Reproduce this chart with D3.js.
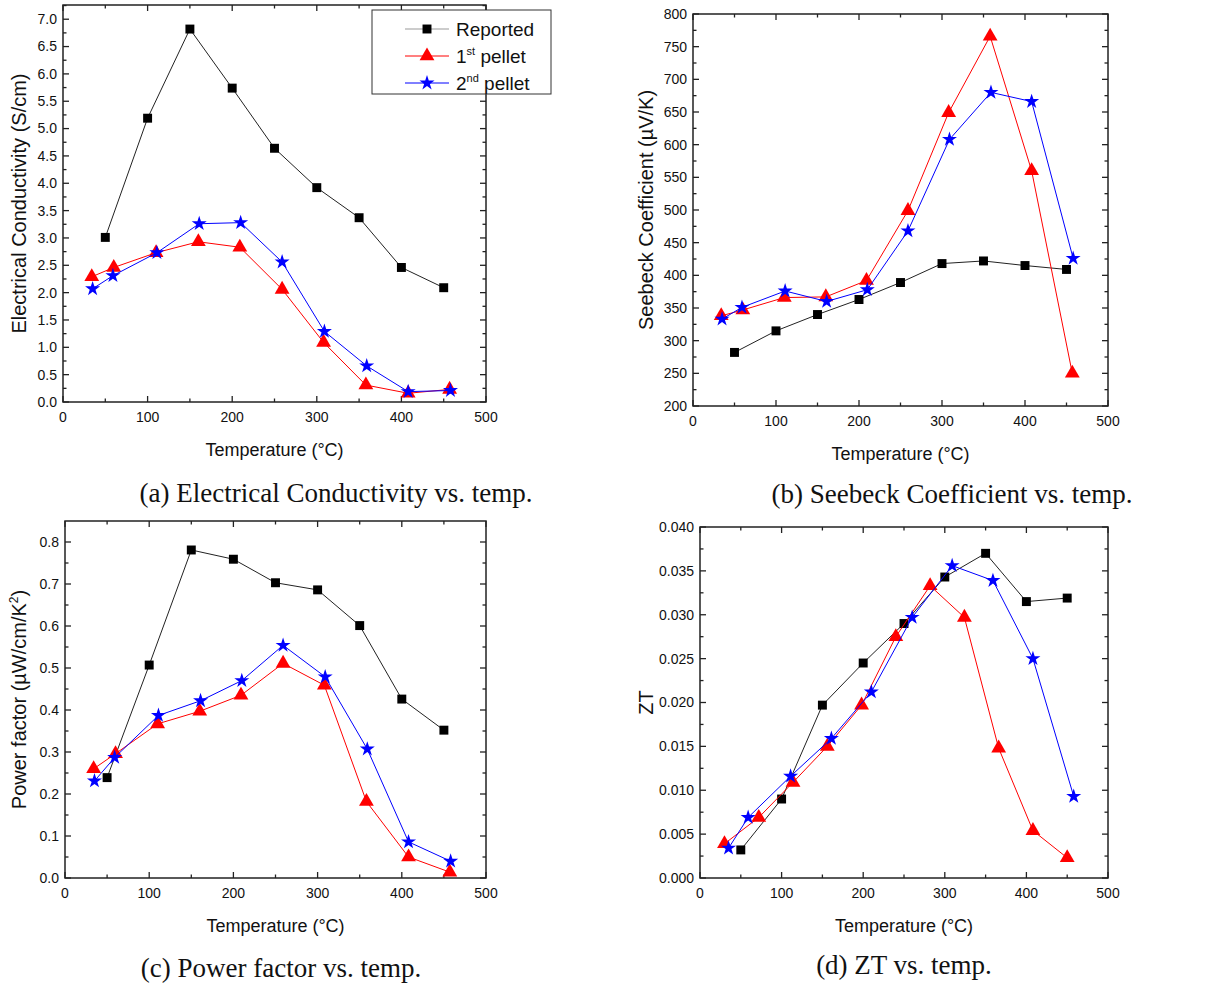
<!DOCTYPE html>
<html>
<head>
<meta charset="utf-8">
<script src="https://cdn.jsdelivr.net/npm/d3@7"></script>
<style>
  body { margin: 0; background: #fff; }
  svg { display: block; }
  text { font-family: Arial, "Liberation Sans", sans-serif; fill: #111; }
  .caption { font-family: "Times New Roman", "Liberation Serif", serif; font-size: 27px; }
</style>
</head>
<body>
<svg id="chart" width="1206" height="985"></svg>
<script>
// temperatures (°C)
const reportedT = [50, 100, 150, 200, 250, 300, 350, 400, 450];
const pellet1T = [34, 60, 110, 160, 209, 259, 308, 358, 408, 457];
const pellet2T = [35, 59, 111, 161, 210, 259, 309, 359, 408, 458];
const pellet1ZtT = [30, 72, 114, 156, 198, 240, 282, 324, 366, 408, 450];
const pellet2ZtT = [35, 59, 111, 161, 210, 260, 309, 359, 408, 458];

// (a) electrical conductivity (S/cm)
const condReported = [3.01, 5.19, 6.82, 5.74, 4.64, 3.92, 3.37, 2.46, 2.09];
const condPellet1 = [2.29, 2.46, 2.73, 2.93, 2.83, 2.06, 1.09, 0.31, 0.16, 0.23];
const condPellet2 = [2.07, 2.31, 2.73, 3.26, 3.28, 2.56, 1.29, 0.66, 0.19, 0.21];

// (b) Seebeck coefficient (µV/K)
const seebReported = [282, 315, 340, 363, 389, 418, 422, 415, 409];
const seebPellet1 = [338, 347, 366, 367, 392, 499, 649, 766, 560, 250];
const seebPellet2 = [333, 351, 376, 360, 378, 468, 608, 680, 666, 426];

// (c) power factor (µW/cm/K²)
const pfReported = [0.239, 0.507, 0.781, 0.759, 0.703, 0.686, 0.601, 0.426, 0.352];
const pfPellet1 = [0.260, 0.296, 0.367, 0.397, 0.435, 0.511, 0.459, 0.182, 0.050, 0.014];
const pfPellet2 = [0.231, 0.287, 0.387, 0.422, 0.470, 0.554, 0.479, 0.307, 0.086, 0.040];

// (d) ZT
const ztReported = [0.0032, 0.0090, 0.0197, 0.0245, 0.0290, 0.0343, 0.0370, 0.0315, 0.0319];
const ztPellet1 = [0.0039, 0.0069, 0.0109, 0.0150, 0.0197, 0.0275, 0.0333, 0.0297, 0.0148, 0.0054, 0.0023];
const ztPellet2 = [0.0034, 0.0069, 0.0116, 0.0159, 0.0212, 0.0297, 0.0356, 0.0339, 0.0250, 0.0093];

const seriesStyle = [
  { name: 'Reported', color: '#000', line: '#222', symbol: d3.symbolSquare, size: 80 },
  { name: ' pellet', pre: '1', sup: 'st', color: '#ff0000', line: '#ff0000', symbol: d3.symbolTriangle, size: 95 },
  { name: ' pellet', pre: '2', sup: 'nd', color: '#0000ff', line: '#0000ff', symbol: d3.symbolStar, size: 70 }
];

const panels = [
  { box: [63, 486, 5, 402], yDomain: [0, 7.26], yMajor: 0.5, yFmt: '.1f',
    yTitle: 'Electrical Conductivity (S/cm)', yTitleX: 19,
    caption: '(a) Electrical Conductivity vs. temp.', capX: 336, capY: 493,
    series: [[reportedT, condReported], [pellet1T, condPellet1], [pellet2T, condPellet2]], legend: true },
  { box: [693, 1108, 14, 406], yDomain: [200, 800], yMajor: 50, yFmt: 'd',
    yTitle: 'Seebeck Coefficient (\u00b5V/K)', yTitleX: 646,
    caption: '(b) Seebeck Coefficient vs. temp.', capX: 952, capY: 494,
    series: [[reportedT, seebReported], [pellet1T, seebPellet1], [pellet2T, seebPellet2]] },
  { box: [65, 486, 521, 878], yDomain: [0, 0.85], yMajor: 0.1, yFmt: '.1f',
    yTitle: 'Power factor (\u00b5W/cm/K', yTitleSup: '2', yTitleEnd: ')', yTitleX: 19,
    caption: '(c) Power factor vs. temp.', capX: 281, capY: 968,
    series: [[reportedT, pfReported], [pellet1T, pfPellet1], [pellet2T, pfPellet2]] },
  { box: [700, 1108, 527, 878], yDomain: [0, 0.04], yMajor: 0.005, yFmt: '.3f',
    yTitle: 'ZT', yTitleX: 646,
    caption: '(d) ZT vs. temp.', capX: 904, capY: 965,
    series: [[reportedT, ztReported], [pellet1ZtT, ztPellet1], [pellet2ZtT, ztPellet2]] }
];

const svg = d3.select('#chart');

panels.forEach(p => {
  const [L, R, T, B] = p.box;
  const x = d3.scaleLinear().domain([0, 500]).range([L, R]);
  const y = d3.scaleLinear().domain(p.yDomain).range([B, T]);
  const g = svg.append('g');

  const xMajor = d3.range(0, 501, 100);
  const xMinor = d3.range(50, 500, 100);
  const yMajor = d3.range(p.yDomain[0], p.yDomain[1] + 1e-9, p.yMajor).map(v => +v.toFixed(6));
  const yMinor = d3.range(p.yDomain[0] + p.yMajor / 2, p.yDomain[1], p.yMajor).map(v => +v.toFixed(6));

  // ticks (inward, mirrored on all four sides)
  const tick = (x1, y1, x2, y2) => g.append('line').attr('x1', x1).attr('y1', y1).attr('x2', x2).attr('y2', y2)
    .attr('stroke', '#222').attr('stroke-width', 1.3);
  xMajor.forEach(v => { tick(x(v), B, x(v), B - 6); tick(x(v), T, x(v), T + 6); });
  xMinor.forEach(v => { tick(x(v), B, x(v), B - 3.5); tick(x(v), T, x(v), T + 3.5); });
  yMajor.forEach(v => { tick(L, y(v), L + 6, y(v)); tick(R, y(v), R - 6, y(v)); });
  yMinor.forEach(v => { tick(L, y(v), L + 3.5, y(v)); tick(R, y(v), R - 3.5, y(v)); });

  g.append('rect').attr('x', L).attr('y', T).attr('width', R - L).attr('height', B - T)
    .attr('fill', 'none').attr('stroke', '#222').attr('stroke-width', 1.5);

  // tick labels
  g.selectAll('.xl').data(xMajor).enter().append('text')
    .attr('x', d => x(d)).attr('y', B + 20).attr('text-anchor', 'middle')
    .attr('font-size', 14).text(d => d);
  const fmt = d3.format(p.yFmt);
  g.selectAll('.yl').data(yMajor).enter().append('text')
    .attr('x', L - 6).attr('y', d => y(d)).attr('dy', '0.35em').attr('text-anchor', 'end')
    .attr('font-size', 14).text(d => fmt(d));

  // axis titles
  g.append('text').attr('x', (L + R) / 2).attr('y', B + 48).attr('dy', '0.35em')
    .attr('text-anchor', 'middle').attr('font-size', 18).text('Temperature (\u00b0C)');
  const yt = g.append('text').attr('transform', `translate(${p.yTitleX},${(T + B) / 2}) rotate(-90)`)
    .attr('dy', '0.35em').attr('text-anchor', 'middle').attr('font-size', 20).text(p.yTitle);
  if (p.yTitleSup) {
    yt.append('tspan').attr('font-size', 12).attr('dy', -8).text(p.yTitleSup);
    yt.append('tspan').attr('dy', 8).text(p.yTitleEnd);
  }

  // series
  p.series.forEach(([xs, ys], i) => {
    const s = seriesStyle[i];
    const pts = xs.map((t, k) => [t, ys[k]]);
    g.append('path').datum(pts)
      .attr('d', d3.line().x(d => x(d[0])).y(d => y(d[1])))
      .attr('fill', 'none').attr('stroke', s.line).attr('stroke-width', 1);
    g.selectAll(null).data(pts).enter().append('path')
      .attr('transform', d => `translate(${x(d[0])},${y(d[1])})`)
      .attr('d', d3.symbol().type(s.symbol).size(s.size))
      .attr('fill', s.color);
  });

  // caption
  svg.append('text').attr('class', 'caption').attr('x', p.capX).attr('y', p.capY)
    .attr('dy', '0.35em').attr('text-anchor', 'middle').text(p.caption);

  if (p.legend) {
    const lg = svg.append('g');
    lg.append('rect').attr('x', 372).attr('y', 10).attr('width', 179).attr('height', 84)
      .attr('fill', '#fff').attr('stroke', '#333').attr('stroke-width', 1);
    seriesStyle.forEach((s, i) => {
      const cy = 29 + i * 27;
      lg.append('line').attr('x1', 405).attr('x2', 449).attr('y1', cy).attr('y2', cy)
        .attr('stroke', i === 0 ? '#999' : s.line).attr('stroke-width', 1);
      lg.append('path').attr('transform', `translate(427,${cy})`)
        .attr('d', d3.symbol().type(s.symbol).size(s.size)).attr('fill', s.color);
      const t = lg.append('text').attr('x', 456).attr('y', cy).attr('dy', '0.35em').attr('font-size', 19);
      if (i === 0) t.text(s.name);
      else {
        t.append('tspan').text(s.pre);
        t.append('tspan').attr('font-size', 11).attr('dy', -8).text(s.sup);
        t.append('tspan').attr('dy', 8).text(s.name);
      }
    });
  }
});
</script>
</body>
</html>
